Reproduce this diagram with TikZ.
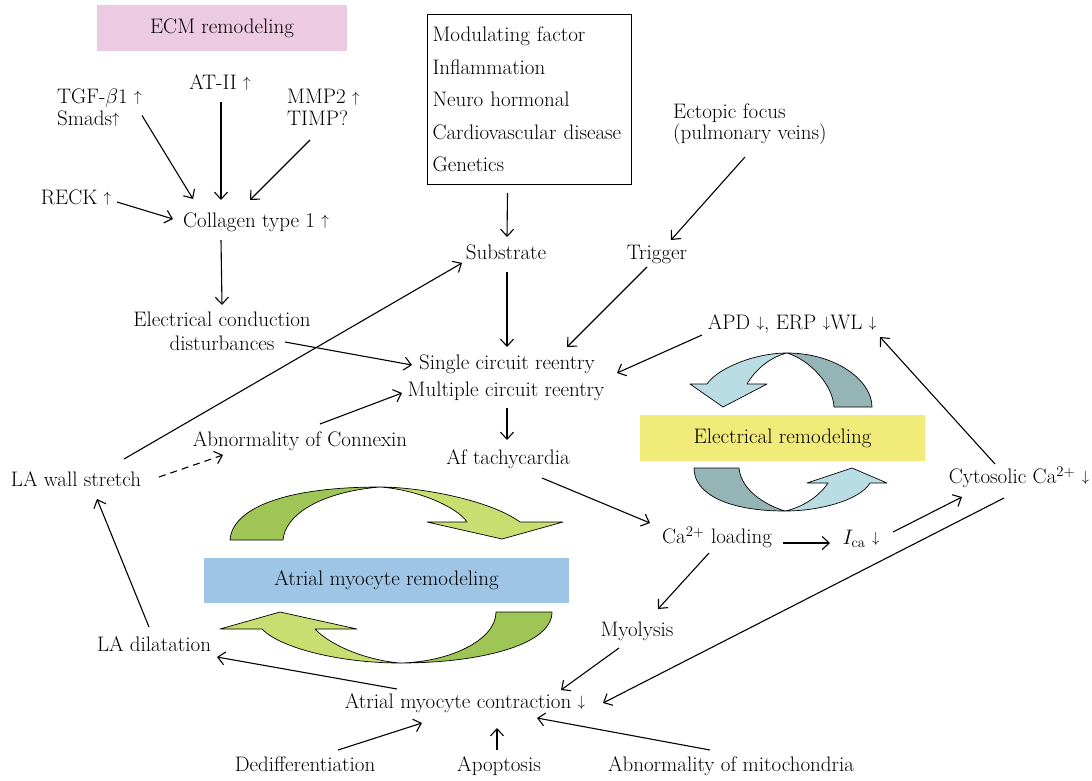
\RequirePackage{fix-cm}
\documentclass[tikz,border=0pt]{standalone}
\usepackage{fontspec}
\usetikzlibrary{arrows.meta,calc}
\newcommand\myfs{\fontsize{21}{23}\selectfont}
\newcommand\uarr{\raisebox{1.8pt}{\fontsize{15}{15}\selectfont$\uparrow$}}
\newcommand\darr{\raisebox{1.8pt}{\fontsize{15}{15}\selectfont$\downarrow$}}
\definecolor{pinkbox}{RGB}{236,202,225}
\definecolor{yelbox}{RGB}{241,235,122}
\definecolor{bluebox}{RGB}{158,196,230}
\definecolor{dgreen}{RGB}{158,197,86}
\definecolor{lgreen}{RGB}{201,222,112}
\definecolor{dgray}{RGB}{148,180,182}
\definecolor{lblue}{RGB}{185,221,226}
\tikzset{
  lab/.style={font=\myfs, inner sep=0pt, text height=14.5pt, text depth=5pt},
  lab2/.style={font=\myfs, inner sep=0pt},
  band/.style={fill=#1, draw=black, line width=0.7pt, line join=round},
  arr/.style={-{Straight Barb[length=7pt,width=13pt]}, line width=1.1pt},
  dsh/.style={arr, dash pattern=on 7pt off 5pt},
  tbox/.style={font=\myfs, inner sep=0pt, minimum height=46pt}
}
\begin{document}
\begin{tikzpicture}[x=1pt,y=-1pt]
\useasboundingbox (0,0) rectangle (1092,780);
% colored boxes
\node[tbox, fill=pinkbox, minimum width=250pt] (ecm) at (222,28) {ECM remodeling};
\node[tbox, fill=yelbox, minimum width=285pt] (elec) at (782.5,438) {Electrical remodeling};
\node[tbox, fill=bluebox, minimum width=365pt, minimum height=45pt] (amr) at (386.5,580.5) {Atrial myocyte remodeling};
% modulating box
\node[draw, line width=1pt, anchor=north west, font=\fontsize{21}{32.5}\selectfont, align=left,
      text width=194pt, minimum width=204pt, minimum height=170pt, inner xsep=5pt, inner ysep=0pt] (mod) at (427,14)
  {Modulating factor\\Inflammation\\Neuro hormonal\\Cardiovascular disease\\Genetics};
% text nodes
\node[lab2, anchor=west, align=left, font=\fontsize{21}{21.5}\selectfont] (tgf) at (57,107.5) {TGF-$\beta$1 \uarr\\Smads\uarr};
\node[lab] (at2) at (220,85) {AT-II \uarr};
\node[lab2, anchor=west, align=left, font=\fontsize{21}{21.5}\selectfont] (mmp) at (287,107.5) {MMP2 \uarr\\TIMP?};
\node[lab] (reck) at (76,200) {RECK \uarr};
\node[lab] (coll) at (256,223) {Collagen type 1 \uarr};
\node[lab2, align=center, font=\fontsize{21}{24}\selectfont] (ecd) at (222,331) {Electrical conduction\\disturbances};
\node[lab] (sub) at (506,255) {Substrate};
\node[lab] (trig) at (657,255) {Trigger};
\node[lab2, anchor=west, align=left, font=\fontsize{21}{21.5}\selectfont] (ect) at (673,124) {Ectopic focus\\(pulmonary veins)};
\node[lab] (single) at (507,365) {Single circuit reentry};
\node[lab] (multi) at (506,392) {Multiple circuit reentry};
\node[lab] (apd) at (792,325) {APD \darr, ERP \darr WL \darr};
\node[lab] (af) at (508,460) {Af tachycardia};
\node[lab] (caload) at (717,539) {Ca\textsuperscript{2+} loading};
\node[lab] (ica) at (861,540) {$I_{\mathrm{ca}}$ \darr};
\node[lab] (cyto) at (1019,479) {Cytosolic Ca\textsuperscript{2+} \darr};
\node[lab] (myo) at (637,632) {Myolysis};
\node[lab] (amc) at (465,704) {Atrial myocyte contraction \darr};
\node[lab] (lawall) at (76,482) {LA wall stretch};
\node[lab] (conx) at (300,442) {Abnormality of Connexin};
\node[lab] (ladil) at (154,647) {LA dilatation};
\node[lab] (dediff) at (305,767) {Dedifferentiation};
\node[lab] (apop) at (499,767) {Apoptosis};
\node[lab] (mito) at (731,767) {Abnormality of mitochondria};
% curved arrows: atrial myocyte remodeling
\draw[band=dgreen] (230,540) .. controls (232,510) and (280,487) .. (380,487)
   .. controls (320,492) and (285,515) .. (283,540) -- cycle;
\draw[band=lgreen] (380,487) .. controls (420,487) and (490,500) .. (520,522)
   -- (563,522) -- (502,539) -- (427,522) -- (467,522)
   .. controls (458,508) and (420,490) .. (380,487) -- cycle;
\draw[band=dgreen] (552,612) .. controls (552,645) and (480,663) .. (400,663)
   .. controls (450,662) and (496,640) .. (496,612) -- cycle;
\draw[band=lgreen] (400,663) .. controls (340,663) and (280,648) .. (262,629)
   -- (220,629) -- (280,612) -- (357,629) -- (315,629)
   .. controls (330,645) and (365,660) .. (400,663) -- cycle;
% curved arrows: electrical remodeling
\draw[band=dgray] (872,407) .. controls (872,380) and (835,353) .. (787,353)
   .. controls (810,360) and (833,385) .. (834,407) -- cycle;
\draw[band=lblue] (787,353) .. controls (755,353) and (718,368) .. (707,384)
   -- (690,384) -- (723,407) -- (767,384) -- (747,384)
   .. controls (755,370) and (770,357) .. (787,353) -- cycle;
\draw[band=dgray] (694,468) .. controls (694,495) and (730,511) .. (785,511)
   .. controls (765,505) and (741,490) .. (739,468) -- cycle;
\draw[band=lblue] (785,511) .. controls (820,511) and (860,500) .. (870,483)
   -- (887,483) -- (852,468) -- (807,483) -- (828,483)
   .. controls (818,498) and (800,508) .. (785,511) -- cycle;
% connectors
\draw[arr] ($(tgf.west)+(85,8)$) -- ($(coll)+(-63,-24)$);
\draw[arr] ($(at2)+(1,17)$) -- ($(coll)+(-35,-23)$);
\draw[arr] ($(mmp.west)+(23,32.5)$) -- ($(coll)+(-6,-23)$);
\draw[arr] ($(reck)+(41,2)$) -- ($(coll)+(-83,-4)$);
\draw[arr] ($(coll)+(-35,17)$) -- ($(ecd)+(0,-26)$);
\draw[arr] ($(ecd)+(63,11)$) -- ($(single)+(-95,0)$);
\draw[arr] ($(mod.south)+(-22,8)$) -- ($(sub)+(1,-18)$);
\draw[arr] ($(ect.west)+(72,33)$) -- ($(trig)+(14,-15)$);
\draw[arr] ($(sub)+(1,17)$) -- ($(single)+(0,-18)$);
\draw[arr] ($(trig)+(-10,12)$) -- ($(single)+(60,-18)$);
\draw[arr] ($(apd)+(-90,10)$) -- ($(single)+(110,8)$);
\draw[arr] ($(cyto)+(-24,-15)$) -- ($(apd)+(88,12)$);
\draw[arr] ($(multi)+(1,16)$) -- ($(af)+(-1,-20)$);
\draw[arr] ($(af)+(34,18)$) -- ($(caload)+(-67,-16)$);
\draw[arr] ($(caload)+(66,4)$) -- ($(ica)+(-31,3)$);
\draw[arr] ($(ica)+(32,-8)$) -- ($(cyto)+(-57,18)$);
\draw[arr] ($(cyto)+(-15,19)$) -- ($(amc)+(138,-1)$);
\draw[arr] ($(caload)+(-8,14)$) -- ($(myo)+(21,-23)$);
\draw[arr] ($(myo)+(-18,16)$) -- ($(amc)+(96,-14)$);
\draw[arr] ($(lawall)+(48,-23)$) -- ($(sub)+(-44,8)$);
\draw[dsh] ($(lawall)+(83,-5)$) -- ($(conx)+(-77,13)$);
\draw[arr] ($(conx)+(20,-18)$) -- ($(multi)+(-104,1)$);
\draw[arr] ($(ladil)+(-5,-20)$) -- ($(lawall)+(21,17)$);
\draw[arr] ($(amc)+(-68,-15)$) -- ($(ladil)+(63,10)$);
\draw[arr] ($(dediff)+(33,-17)$) -- ($(amc)+(-43,19)$);
\draw[arr] ($(apop)+(-2,-17)$) -- ($(amc)+(32,24)$);
\draw[arr] ($(mito)+(-21,-17)$) -- ($(amc)+(72,14)$);
\end{tikzpicture}
\end{document}
